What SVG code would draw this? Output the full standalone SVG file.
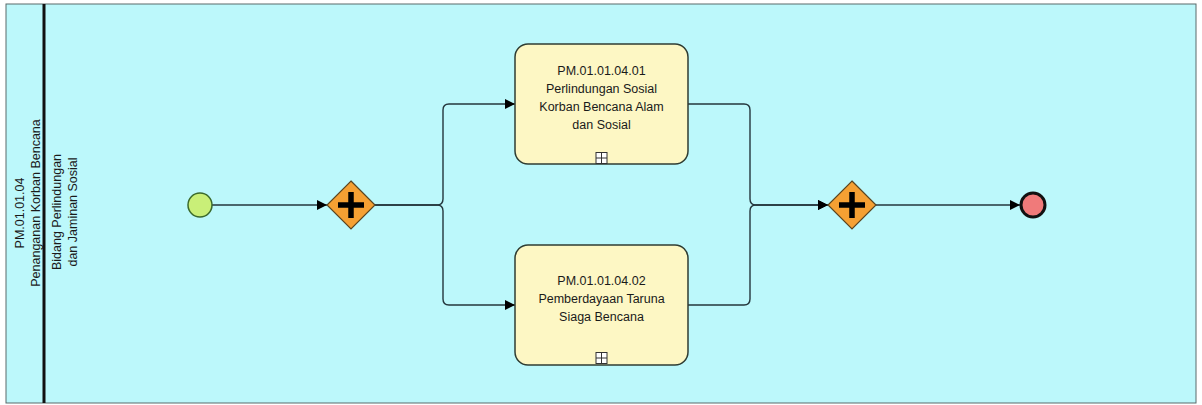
<svg xmlns="http://www.w3.org/2000/svg" width="1202" height="405" viewBox="0 0 1202 405">
<style>
.lbl{font-family:"Liberation Sans",Arial,sans-serif;font-size:12.5px;fill:#1a1a1a;text-anchor:middle}
.task{fill:#fdf7c4;stroke:#2f3d33;stroke-width:1.5}
.gw{fill:#f5a033;stroke:#5a4520;stroke-width:1.2}
.plus{stroke:#000;stroke-width:5.5;fill:none}
.flow{fill:none;stroke:#24363c;stroke-width:1.4}
.mk{fill:#fff;stroke:#333;stroke-width:1}
</style>
<defs>
<marker id="arr" viewBox="0 0 10 10" refX="10" refY="5" markerWidth="10" markerHeight="10" markerUnits="userSpaceOnUse" orient="auto">
<path d="M0,0 L10,5 L0,10 z" fill="#000"/>
</marker>
</defs>
<g id="pool">
<rect x="6" y="4" width="1190" height="399" fill="#bcf8fb" stroke="#5a6a6a" stroke-width="1"/>
<line x1="44" y1="4" x2="44" y2="403" stroke="#111" stroke-width="3"/>
<text class="lbl" transform="translate(24,213) rotate(-90)">PM.01.01.04</text>
<text class="lbl" transform="translate(40,203) rotate(-90)">Penanganan Korban Bencana</text>
<text class="lbl" transform="translate(61,212) rotate(-90)">Bidang Perlindungan</text>
<text class="lbl" transform="translate(77,212) rotate(-90)">dan Jaminan Sosial</text>
</g>
<g id="connectors">
<path class="flow" d="M212,205 H327" marker-end="url(#arr)"/>
<path class="flow" d="M375,205 H437 Q443,205 443,199 V110 Q443,104 449,104 H515" marker-end="url(#arr)"/>
<path class="flow" d="M375,205 H437 Q443,205 443,211 V299 Q443,305 449,305 H515" marker-end="url(#arr)"/>
<path class="flow" d="M688,104 H744 Q750,104 750,110 V199 Q750,205 756,205 H828" marker-end="url(#arr)"/>
<path class="flow" d="M688,305 H744 Q750,305 750,299 V211 Q750,205 756,205 H828" marker-end="url(#arr)"/>
<path class="flow" d="M876,205 H1020" marker-end="url(#arr)"/>
</g>
<g id="start">
<circle cx="200" cy="205" r="12" fill="#c9ef78" stroke="#3b6a2c" stroke-width="1.5"/>
</g>
<g id="gateway1">
<polygon class="gw" points="351,181 375,205 351,229 327,205"/>
<path class="plus" d="M351,192 V218 M338,205 H364"/>
</g>
<g id="task1">
<rect class="task" x="515" y="44" width="173" height="120" rx="13"/>
<text class="lbl" x="601.5" y="74.5">PM.01.01.04.01</text>
<text class="lbl" x="601.5" y="92.5">Perlindungan Sosial</text>
<text class="lbl" x="601.5" y="110.5">Korban Bencana Alam</text>
<text class="lbl" x="601.5" y="128.5">dan Sosial</text>
<rect class="mk" x="596" y="152.5" width="11" height="11"/>
<path d="M601.5,152.5 V163.5 M596,158 H607" stroke="#333" stroke-width="1"/>
</g>
<g id="task2">
<rect class="task" x="515" y="245" width="173" height="120" rx="13"/>
<text class="lbl" x="601.5" y="284.5">PM.01.01.04.02</text>
<text class="lbl" x="601.5" y="302.5">Pemberdayaan Taruna</text>
<text class="lbl" x="601.5" y="320.5">Siaga Bencana</text>
<rect class="mk" x="596" y="352.5" width="11" height="11"/>
<path d="M601.5,352.5 V363.5 M596,358 H607" stroke="#333" stroke-width="1"/>
</g>
<g id="gateway2">
<polygon class="gw" points="852,181 876,205 852,229 828,205"/>
<path class="plus" d="M852,192 V218 M839,205 H865"/>
</g>
<g id="end">
<circle cx="1033" cy="205" r="12" fill="#f07a7a" stroke="#111" stroke-width="3"/>
</g>
</svg>
